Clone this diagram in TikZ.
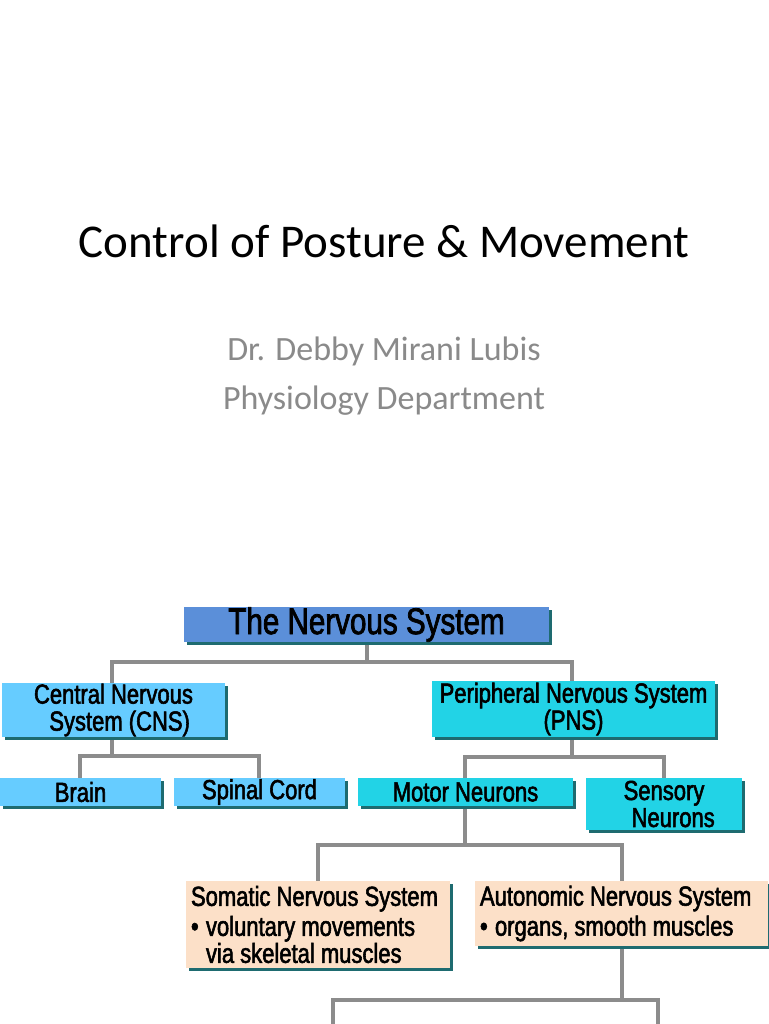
\documentclass[tikz,border=0pt]{standalone}
\usepackage{fontspec}
\setmainfont{Carlito}
\newfontfamily\nar[FakeStretch=0.80,FakeBold=2]{Liberation Sans}
\usetikzlibrary{shadows}
\definecolor{shc}{HTML}{1E6B70}
\definecolor{tblue}{HTML}{5B8FD9}
\definecolor{lblue}{HTML}{66CCFF}
\definecolor{cyanb}{HTML}{22D3E6}
\definecolor{peach}{HTML}{FCE0C8}
\definecolor{lineg}{HTML}{8C8C8C}
\definecolor{subg}{HTML}{8A8A8A}
\newcommand{\bul}{\makebox[15pt][l]{\textbullet}}
\tikzset{
  box/.style={draw=none, inner sep=0pt, align=center, font=\nar\fontsize{27.5}{27}\selectfont,
    copy shadow={shadow xshift=3pt, shadow yshift=-3pt, fill=shc, draw=none}},
  conn/.style={draw=lineg, line width=3.5pt},
}
\begin{document}
\begin{tikzpicture}[x=1pt,y=-1pt]
\useasboundingbox (0,0) rectangle (768,1024);
\fill[white] (0,0) rectangle (768,1024);
\node (title) at (384,241) {\fontsize{47}{56}\selectfont Control of Posture \& Movement};
\node[text=subg] (author) at (384,351) {\fontsize{34}{40}\selectfont Dr. Debby Mirani Lubis};
\node[text=subg] (dept) at (384,401) {\fontsize{34}{40}\selectfont Physiology Department};

\coordinate (j1) at (367,662);
\coordinate (j1l) at (112,662);
\coordinate (j1r) at (572,662);
\coordinate (j2) at (112,756);
\coordinate (j2l) at (80,756);
\coordinate (j2r) at (259,756);
\coordinate (j3) at (572,757);
\coordinate (j3l) at (465,757);
\coordinate (j3r) at (664,757);
\coordinate (j4) at (465,845);
\coordinate (j4l) at (318,845);
\coordinate (j4r) at (622,845);
\coordinate (j5) at (622,1000);
\coordinate (j5l) at (333,1000);
\coordinate (j5r) at (658,1000);
\coordinate (e5l) at (333,1030);
\coordinate (e5r) at (658,1030);

\draw[conn] (367,630) -- (j1);
\draw[conn] (112,690) -- (j1l) -- (j1r) -- (572,690);
\draw[conn] (112,720) -- (j2);
\draw[conn] (80,790) -- (j2l) -- (j2r) -- (259,790);
\draw[conn] (572,720) -- (j3);
\draw[conn] (465,790) -- (j3l) -- (j3r) -- (664,790);
\draw[conn] (465,800) -- (j4);
\draw[conn] (318,890) -- (j4l) -- (j4r) -- (622,890);
\draw[conn] (622,930) -- (j5);
\draw[conn] (e5l) -- (j5l) -- (j5r) -- (e5r);

\node[box, fill=tblue, minimum width=365pt, minimum height=35pt, font=\nar\fontsize{37}{40}\selectfont] (ns) at (366.5,624.5) {The Nervous System};
\node[box, fill=lblue, minimum width=223pt, minimum height=54pt] (cns) at (113.5,710) {Central Nervous\\ \ \ System (CNS)};
\node[box, fill=cyanb, minimum width=283pt, minimum height=56pt] (pns) at (573.5,709) {Peripheral Nervous System\\ (PNS)};
\node[box, fill=lblue, minimum width=161pt, minimum height=28pt] (brain) at (80.5,792) {Brain};
\node[box, fill=lblue, minimum width=171pt, minimum height=28pt] (spinal) at (259.5,792) {Spinal Cord};
\node[box, fill=cyanb, minimum width=215pt, minimum height=28pt] (motor) at (465.5,792) {Motor Neurons};
\node[box, fill=cyanb, minimum width=156pt, minimum height=52pt] (sensory) at (664,804) {Sensory\\ \ \ \ Neurons};
\node[box, fill=peach, minimum width=264pt, minimum height=87pt, text width=254pt, align=flush left] (somatic) at (318,924.5)
  {Somatic Nervous System\\[3pt] \bul voluntary movements\\ \hspace*{15pt}via skeletal muscles};
\node[box, fill=peach, minimum width=293pt, minimum height=65pt, text width=283pt, align=flush left] (auto) at (621.5,913.5)
  {Autonomic Nervous System\\[3pt] \bul organs, smooth muscles};
\end{tikzpicture}
\end{document}
